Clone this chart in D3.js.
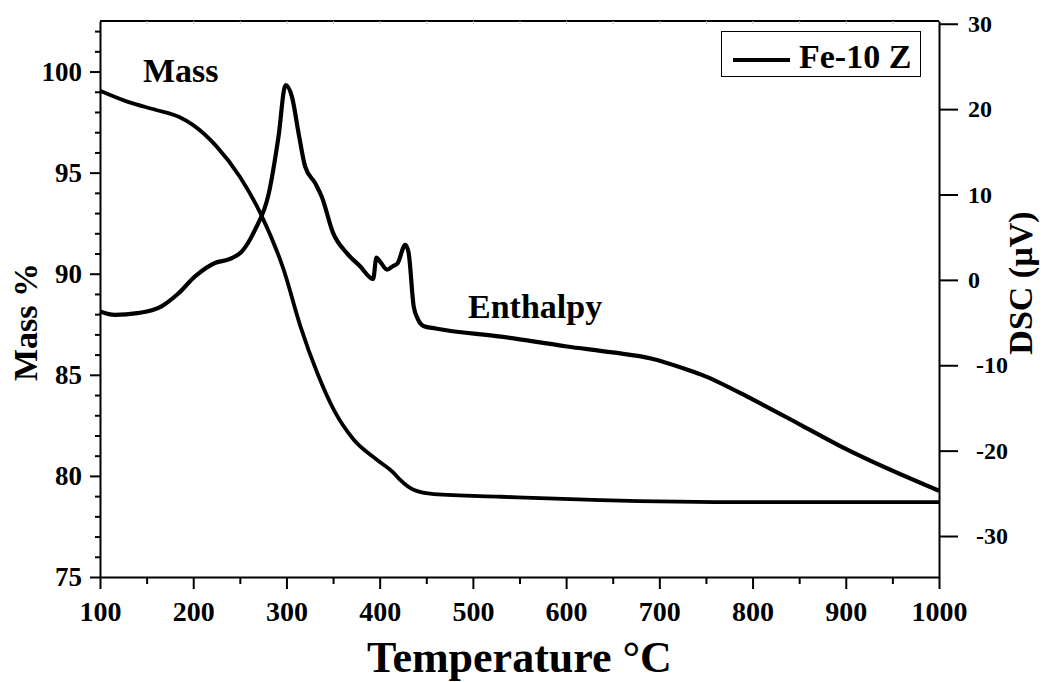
<!DOCTYPE html>
<html>
<head>
<meta charset="utf-8">
<script src="https://cdn.jsdelivr.net/npm/d3@7"></script>
<style>
  body { margin: 0; background: #fff; }
  svg text { font-family: "Liberation Serif", "Times New Roman", serif; font-weight: bold; fill: #000; }
</style>
</head>
<body>
<figure id="tga" style="margin:0"></figure>
<script>
// temperature (°C) / mass %
var massTemp = [100, 130, 160, 185, 200, 225, 250, 272, 297, 315, 333, 351, 372, 397, 415, 422, 437, 458, 530, 637, 800, 1000];
var massVal  = [99.05, 98.5, 98.1, 97.75, 97.35, 96.3, 94.8, 93.0, 90.2, 87.4, 85.1, 83.25, 81.8, 80.8, 80.15, 79.8, 79.3, 79.1, 78.97, 78.8, 78.7, 78.7];

// temperature (°C) / DSC (µV)
var dscTemp = [100, 116, 140, 166, 184, 202, 224, 238, 252, 266, 281, 291.5, 299, 306, 313, 320, 331, 338, 350, 365, 379, 393, 396.5, 400, 408, 414, 419, 427.5, 431, 436.5, 441, 447, 460, 530, 601, 650, 691, 727, 745, 800, 852, 900, 1000];
var dscVal  = [-3.7, -4.1, -3.9, -3.1, -1.6, 0.4, 2.0, 2.4, 3.3, 5.8, 10.1, 16.8, 22.8, 21.4, 17.2, 13.3, 11.3, 9.7, 5.5, 3.1, 1.6, 0.1, 2.6, 2.2, 1.2, 1.6, 1.9, 4.1, 3.2, -3.1, -4.6, -5.4, -5.7, -6.65, -7.8, -8.5, -9.2, -10.4, -11.1, -14.0, -17.0, -19.8, -24.7];

var xTicks = [100, 200, 300, 400, 500, 600, 700, 800, 900, 1000];
var massTicks = [75, 80, 85, 90, 95, 100];
var dscTicks = [-30, -20, -10, 0, 10, 20, 30];
var legendLabel = "Fe-10 Z";

function drawChart() {
// frame of the plot inside the 1043x682 page
var pLeft = 100, pRight = 939, pTop = 21, pBottom = 577;

var svg = d3.select("figure#tga")
  .append("svg")
    .attr("width", 1043)
    .attr("height", 682);

var x = d3.scaleLinear().domain([100, 1000]).range([pLeft, pRight]);
var yMass = d3.scaleLinear().domain([75, 102.5]).range([pBottom, pTop]);
var yDsc = d3.scaleLinear().domain([-34.8, 30.32]).range([pBottom, pTop]);

// curves
var massData = massTemp.map(function(t, i) { return [t, massVal[i]]; });
var dscData = dscTemp.map(function(t, i) { return [t, dscVal[i]]; });

svg.append("path")
  .datum(massData)
  .attr("fill", "none")
  .attr("stroke", "#000")
  .attr("stroke-width", 3.8)
  .attr("stroke-linejoin", "round")
  .attr("d", d3.line()
    .curve(d3.curveMonotoneX)
    .x(function(d) { return x(d[0]); })
    .y(function(d) { return yMass(d[1]); }));

svg.append("path")
  .datum(dscData)
  .attr("fill", "none")
  .attr("stroke", "#000")
  .attr("stroke-width", 4.2)
  .attr("stroke-linejoin", "round")
  .attr("d", d3.line()
    .curve(d3.curveMonotoneX)
    .x(function(d) { return x(d[0]); })
    .y(function(d) { return yDsc(d[1]); }));

// top axis: plain line with faint inner ticks
var topAxis = svg.append("g")
  .attr("transform", "translate(0," + pTop + ")")
  .call(d3.axisTop(x).tickValues(d3.range(150, 1000, 50)).tickSize(-3).tickFormat(""));
topAxis.select(".domain").attr("stroke-width", 2).attr("d", "M" + pLeft + ",0H" + pRight);
topAxis.selectAll(".tick line").attr("stroke", "#bbb").attr("stroke-width", 1);

// bottom axis
svg.append("g")
  .attr("transform", "translate(0," + pBottom + ")")
  .call(d3.axisBottom(x).tickValues(d3.range(150, 1000, 100)).tickSize(7).tickFormat(""))
  .call(function(g) { g.select(".domain").remove(); })
  .selectAll("line").attr("stroke-width", 2);

var xAxis = svg.append("g")
  .attr("transform", "translate(0," + pBottom + ")")
  .call(d3.axisBottom(x).tickValues(xTicks).tickSize(12).tickPadding(10).tickSizeOuter(0)
    .tickFormat(function(d) { return String(d); }));
xAxis.select(".domain").attr("stroke-width", 2);
xAxis.selectAll(".tick line").attr("stroke-width", 2);
xAxis.selectAll("text").style("font-size", "28px").attr("dy", "0.78em");

// left axis
svg.append("g")
  .attr("transform", "translate(" + pLeft + ",0)")
  .call(d3.axisLeft(yMass).tickValues(d3.range(76, 103, 1).filter(function(v) { return v % 5 !== 0; })).tickSize(5).tickFormat(""))
  .call(function(g) { g.select(".domain").remove(); })
  .selectAll("line").attr("stroke-width", 2);

var yAxisL = svg.append("g")
  .attr("transform", "translate(" + pLeft + ",0)")
  .call(d3.axisLeft(yMass).tickValues(massTicks).tickSize(10).tickPadding(8).tickSizeOuter(0)
    .tickFormat(function(d) { return String(d); }));
yAxisL.select(".domain").attr("stroke-width", 2);
yAxisL.selectAll(".tick line").attr("stroke-width", 2);
yAxisL.selectAll("text").style("font-size", "27px");

// right axis
var yAxisR = svg.append("g")
  .attr("transform", "translate(" + pRight + ",0)")
  .call(d3.axisRight(yDsc).tickValues(dscTicks).tickSize(19).tickPadding(10).tickSizeOuter(0)
    .tickFormat(function(d) { return String(d); }));
yAxisR.select(".domain").attr("stroke-width", 2);
yAxisR.selectAll(".tick line").attr("stroke-width", 2);
yAxisR.selectAll("text")
  .style("font-size", "24px")
  .attr("x", function(d) { return d < 0 ? 37 : 29; });

// axis titles
svg.append("text")
  .attr("x", (pLeft + pRight) / 2)
  .attr("y", 672)
  .attr("text-anchor", "middle")
  .style("font-size", "44px")
  .text("Temperature °C");

svg.append("text")
  .attr("transform", "translate(37,322) rotate(-90)")
  .attr("text-anchor", "middle")
  .style("font-size", "34px")
  .text("Mass %");

svg.append("text")
  .attr("transform", "translate(1032,283) rotate(-90)")
  .attr("text-anchor", "middle")
  .style("font-size", "34px")
  .text("DSC (µV)");

// curve labels
svg.append("text")
  .attr("x", 143)
  .attr("y", 82)
  .style("font-size", "34px")
  .text("Mass");

svg.append("text")
  .attr("x", 468)
  .attr("y", 318)
  .style("font-size", "34px")
  .text("Enthalpy");

// legend
var legend = svg.append("g");
legend.append("rect")
  .attr("x", 721.5).attr("y", 31.5)
  .attr("width", 199).attr("height", 45)
  .attr("fill", "#fff")
  .attr("stroke", "#000")
  .attr("stroke-width", 1);
legend.append("line")
  .attr("x1", 733).attr("x2", 790)
  .attr("y1", 60).attr("y2", 60)
  .attr("stroke", "#000")
  .attr("stroke-width", 4);
legend.append("text")
  .attr("x", 799)
  .attr("y", 68)
  .style("font-size", "34px")
  .text(legendLabel);
}

drawChart();
</script>
</body>
</html>
